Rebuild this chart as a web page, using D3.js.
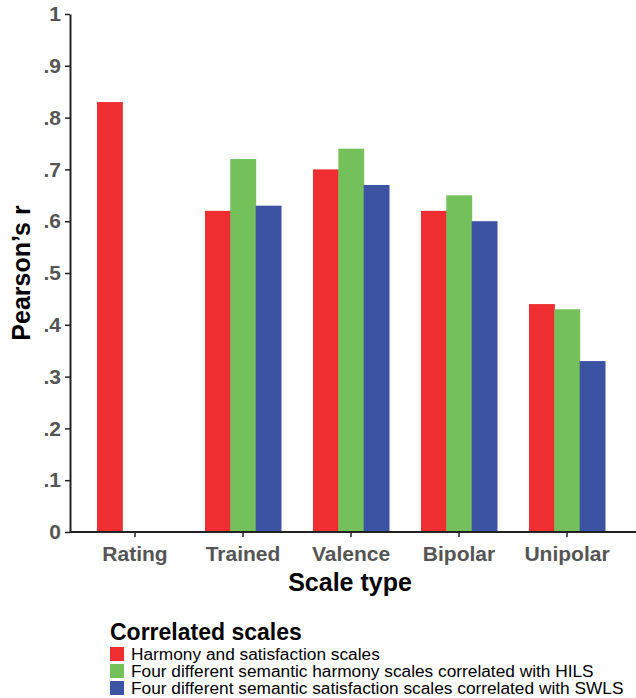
<!DOCTYPE html>
<html>
<head>
<meta charset="utf-8">
<script src="https://cdn.jsdelivr.net/npm/d3@7"></script>
<style>
  body { margin: 0; background: #fff; }
  text { font-family: "Liberation Sans", Arial, sans-serif; }
</style>
</head>
<body>
<div id="chart"></div>
<script>
const categories = ["Rating", "Trained", "Valence", "Bipolar", "Unipolar"];
const seriesNames = [
  "Harmony and satisfaction scales",
  "Four different semantic harmony scales correlated with HILS",
  "Four different semantic satisfaction scales correlated with SWLS"
];
const harmonySatisfaction = [0.83, 0.62, 0.70, 0.62, 0.44];
const harmonyHILS = [null, 0.72, 0.74, 0.65, 0.43];
const satisfactionSWLS = [null, 0.63, 0.67, 0.60, 0.33];
const yTicks = [0, 0.1, 0.2, 0.3, 0.4, 0.5, 0.6, 0.7, 0.8, 0.9, 1];
const colors = ["#ee2e31", "#74c15b", "#3c53a4"];

const width = 636, height = 698;
const margin = { left: 70, top: 14, right: 4, bottom: 166 };

const svg = d3.select("#chart").append("svg")
  .attr("width", width)
  .attr("height", height);

// discrete x scale, centres 108px apart, first at 135
const step = 108;
const x = d3.scaleBand()
  .domain(categories)
  .range([135 - 0.6 * step, 135 - 0.6 * step + 5.2 * step])
  .paddingOuter(0.1)
  .paddingInner(0);

const y = d3.scaleLinear()
  .domain([0, 1])
  .range([height - margin.bottom, margin.top]);

const sub = d3.scaleBand()
  .domain([0, 1, 2])
  .range([-38, 38]);

const series = [harmonySatisfaction, harmonyHILS, satisfactionSWLS];
const rows = [];
series.forEach((vals, s) => {
  vals.forEach((v, i) => {
    if (v !== null) rows.push({ cat: categories[i], s, v });
  });
});

const center = c => x(c) + x.bandwidth() / 2;

svg.append("g").selectAll("rect")
  .data(rows)
  .join("rect")
  .attr("x", d => center(d.cat) + sub(d.s))
  .attr("width", sub.bandwidth() + 0.5)
  .attr("y", d => y(d.v))
  .attr("height", d => y(0) - y(d.v))
  .attr("fill", d => colors[d.s]);

// Y axis
const yAxis = svg.append("g")
  .attr("transform", `translate(${margin.left},0)`)
  .call(d3.axisLeft(y).tickValues(yTicks).tickSize(5).tickSizeOuter(0)
    .tickFormat(d => d === 0 ? "0" : d === 1 ? "1" : d3.format(".1f")(d).replace(/^0/, "")));
yAxis.select(".domain").attr("stroke", "#222").attr("stroke-width", 2);
yAxis.selectAll(".tick line").attr("stroke", "#222").attr("stroke-width", 1.5);
yAxis.selectAll(".tick text")
  .attr("x", -9)
  .attr("fill", "#555")
  .style("font-size", "21px")
  .style("font-weight", "bold");

// X axis
const xAxis = svg.append("g")
  .attr("transform", `translate(0,${y(0)})`)
  .call(d3.axisBottom(x).tickSize(5).tickSizeOuter(0));
xAxis.select(".domain").attr("stroke", "#222").attr("stroke-width", 2)
  .attr("d", `M${margin.left},0H${width}`);
xAxis.selectAll(".tick line").attr("stroke", "#222").attr("stroke-width", 1.5);
xAxis.selectAll(".tick text")
  .attr("y", 29)
  .attr("dy", 0)
  .attr("fill", "#555")
  .style("font-size", "21px")
  .style("font-weight", "bold");

// Axis titles
svg.append("text")
  .attr("transform", `translate(30,${(y(0) + y(1)) / 2}) rotate(-90)`)
  .attr("text-anchor", "middle")
  .style("font-size", "25px")
  .style("font-weight", "bold")
  .text("Pearson\u2019s r");

svg.append("text")
  .attr("x", 350)
  .attr("y", 591)
  .attr("text-anchor", "middle")
  .style("font-size", "25px")
  .style("font-weight", "bold")
  .text("Scale type");

// Legend
const legend = svg.append("g").attr("transform", "translate(110,0)");
legend.append("text")
  .attr("x", 0)
  .attr("y", 640)
  .style("font-size", "23px")
  .style("font-weight", "bold")
  .text("Correlated scales");

legend.selectAll("rect")
  .data(seriesNames)
  .join("rect")
  .attr("x", 0)
  .attr("y", (d, i) => 647 + i * 17)
  .attr("width", 14)
  .attr("height", 14)
  .attr("fill", (d, i) => colors[i]);

legend.selectAll("text.item")
  .data(seriesNames)
  .join("text")
  .attr("class", "item")
  .attr("x", 21)
  .attr("y", (d, i) => 660 + i * 17)
  .style("font-size", "17.3px")
  .text(d => d);
</script>
</body>
</html>
